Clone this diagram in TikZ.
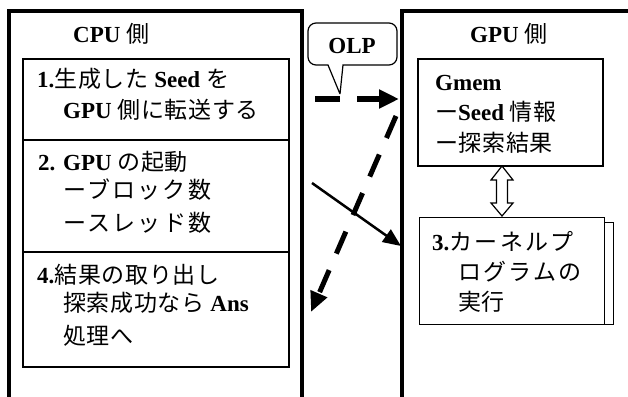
\documentclass[tikz,border=0pt]{standalone}
\usepackage{fontspec}
\setmainfont{Liberation Serif}
\newfontfamily\jp[LetterSpace=3]{Noto Sans CJK JP}
\newfontfamily\jpw[LetterSpace=10]{Noto Sans CJK JP}
\newcommand\J[1]{{\jp\mdseries #1}}
\newcommand\JW[1]{{\jpw\mdseries #1}}
\usetikzlibrary{arrows.meta,calc}
\tikzset{
  txt/.style={anchor=base west, inner sep=0pt, font=\fontsize{23}{27}\selectfont\bfseries},
  outer/.style={line width=3.5pt},
  box/.style={draw, line width=1.5pt, anchor=north west, inner sep=0pt},
  thinbox/.style={draw, line width=1.2pt, fill=white, anchor=north west, inner sep=0pt},
  dasharrow/.style={line width=6pt, dash pattern=on 25pt off 17pt, -{Triangle[length=20pt,width=18pt]}},
  dasharrowb/.style={line width=5pt, dash pattern=on 24pt off 18pt, -{Triangle[length=20pt,width=17pt]}},
  solidarrow/.style={line width=2.5pt, -{Triangle[length=18pt,width=15pt]}}
}
\begin{document}
\begin{tikzpicture}[x=1pt,y=-1pt]
\useasboundingbox (0,0) rectangle (628,396);
% outer frames
\draw[outer] (9,410) -- (9,11) -- (302,11) -- (302,410);
\draw[outer] (402,410) -- (402,11) -- (640,11);
% titles
\node[txt] (cput) at (73,43) {CPU \J{側}};
\node[txt] (gput) at (470,43) {GPU \J{側}};
% CPU boxes
\node[box, minimum width=266pt, minimum height=81pt] (b1) at (22,58) {};
\node[box, minimum width=266pt, minimum height=112pt] (b2) at (22,139) {};
\node[box, minimum width=266pt, minimum height=115pt] (b4) at (22,251) {};
\node[txt] (t11) at (37,87) {1.\J{生成した} Seed \J{を}};
\node[txt] (t12) at (63,118) {GPU \J{側に転送する}};
\node[txt] (t21) at (38,170) {2. GPU \J{の起動}};
\node[txt] (t22) at (63,198) {\JW{ーブロック数}};
\node[txt] (t23) at (63,231) {\JW{ースレッド数}};
\node[txt] (t41) at (37,283) {4.\J{結果の取り出し}};
\node[txt] (t42) at (63,311) {\J{探索成功なら} Ans};
\node[txt] (t43) at (63,344) {\J{処理へ}};
% GPU boxes
\node[box, minimum width=185pt, minimum height=107pt] (gmem) at (417,58) {};
\node[txt] (g1) at (435,90) {Gmem};
\node[txt] (g2) at (435,120) {\J{ー}Seed \J{情報}};
\node[txt] (g3) at (435,151) {\J{ー探索結果}};
\node[thinbox, minimum width=185pt, minimum height=102pt] (kback) at (428,222) {};
\node[thinbox, minimum width=185pt, minimum height=107pt] (kern) at (419,217) {};
\node[txt] (k1) at (432,250) {3.\JW{カーネルプ}};
\node[txt] (k2) at (458,280) {\JW{ログラムの}};
\node[txt] (k3) at (458,310) {\J{実行}};
% hollow double arrow between Gmem and kernel
\draw[line width=1.2pt, fill=white] (502,166) -- (513,180) -- (507.5,180) -- (507.5,203) -- (513,203) -- (502,216)
  -- (491,203) -- (496.5,203) -- (496.5,180) -- (491,180) -- cycle;
% OLP callout
\node[txt, anchor=center] (olp) at (352,46) {OLP};
\draw[line width=1.2pt] (340,94) -- (328,65) [rounded corners=8pt] -- (308,65) -- (308,23) -- (397,23) -- (397,65) [sharp corners] -- (343,65) -- (340,94);
% arrows
\coordinate (h1) at (315,99);
\coordinate (h2) at (399,99);
\draw[dasharrow] (h1) -- (h2);
\coordinate (d1) at (396,116);
\coordinate (d2) at (311,312);
\draw[dasharrowb] (d1) -- (d2);
\coordinate (s1) at (312,183);
\coordinate (s2) at (401,246);
\draw[solidarrow] (s1) -- (s2);
\end{tikzpicture}
\end{document}
